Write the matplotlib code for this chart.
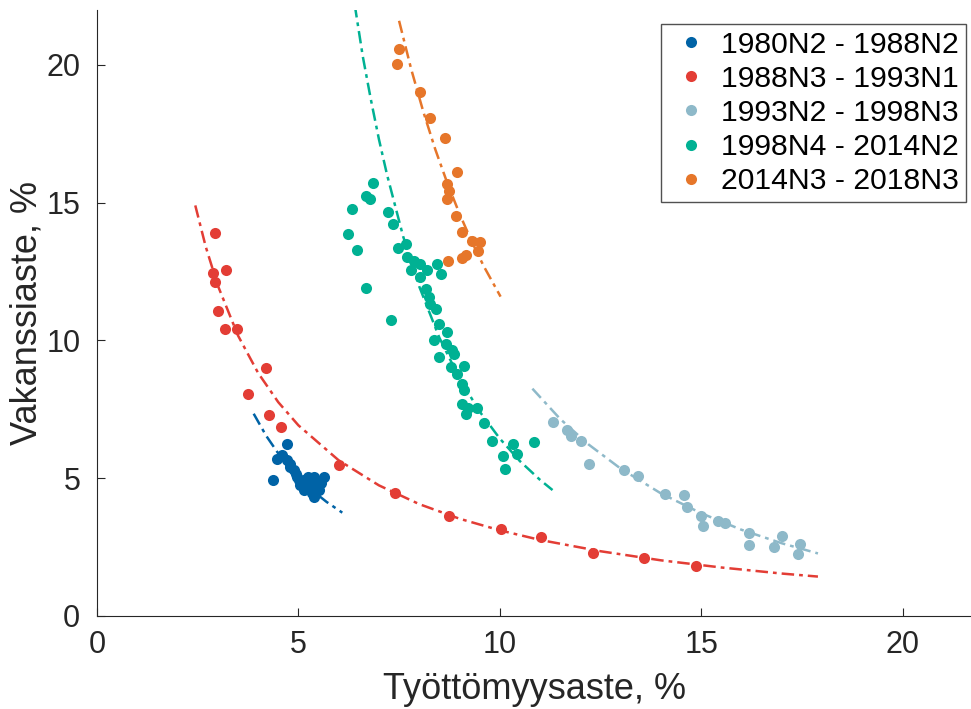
import numpy as np
import matplotlib
matplotlib.use('Agg')
import matplotlib.pyplot as plt

plt.rcParams['font.family'] = ['Liberation Sans', 'DejaVu Sans']

###########################################################

labels = ['1980N2 - 1988N2', '1988N3 - 1993N1', '1993N2 - 1998N3',
          '1998N4 - 2014N2', '2014N3 - 2018N3']
colors = ['#0063A6', '#E33D35', '#8EB9C9', '#00B193', '#E6762A']

# unemployment rate (x) and vacancy rate (y)
u_1 = [4.72, 4.59, 4.47, 4.80, 4.88, 4.97, 4.37, 5.13, 5.38, 5.63, 5.55, 5.30,
       5.05, 5.38, 5.51, 5.22, 5.01, 4.93, 4.80, 5.25, 5.44, 5.13, 5.34, 4.72]
v_1 = [6.23, 5.83, 5.68, 5.53, 5.29, 5.05, 4.93, 4.93, 5.05, 5.05, 4.81, 4.63,
       4.75, 4.32, 4.57, 4.81, 4.93, 5.17, 5.41, 5.05, 4.75, 4.57, 4.45, 5.65]

u_2 = [2.94, 3.21, 2.89, 2.94, 3.00, 3.18, 3.47, 4.20, 3.75, 4.28, 4.57,
       6.00, 7.41, 8.74, 10.02, 11.02, 12.31, 13.59, 14.88]
v_2 = [13.90, 12.57, 12.44, 12.11, 11.07, 10.42, 10.42, 9.01, 8.04, 7.28, 6.86,
       5.47, 4.45, 3.62, 3.14, 2.87, 2.29, 2.09, 1.81]

u_3 = [11.31, 11.68, 11.77, 12.01, 12.22, 13.09, 13.44, 14.10, 14.57, 14.65,
       15.00, 15.04, 15.41, 15.60, 16.18, 16.18, 16.82, 17.00, 17.45, 17.40]
v_3 = [7.04, 6.74, 6.52, 6.35, 5.53, 5.31, 5.07, 4.44, 4.38, 3.96,
       3.63, 3.26, 3.45, 3.36, 3.00, 2.57, 2.49, 2.90, 2.61, 2.25]

u_4 = [6.86, 6.67, 6.77, 6.33, 7.23, 7.36, 6.23, 6.46, 7.47, 7.66, 7.70,
       7.87, 8.03, 7.79, 8.20, 8.45, 8.53, 8.03, 6.67, 8.16, 8.24, 8.28, 8.41,
       7.29, 8.49, 8.68, 8.37, 8.66, 8.82, 8.49, 8.86, 8.78, 9.11, 8.95, 9.07,
       9.11, 9.07, 9.20, 9.44, 9.15, 9.61, 9.80, 10.34, 10.84, 10.09, 10.44, 10.12]
v_4 = [15.70, 15.25, 15.13, 14.77, 14.65, 14.22, 13.86, 13.29, 13.36, 13.50, 13.02,
       12.90, 12.78, 12.54, 12.54, 12.78, 12.42, 12.29, 11.90, 11.87, 11.57, 11.33, 11.15,
       10.75, 10.60, 10.30, 10.00, 9.88, 9.64, 9.40, 9.52, 9.03, 9.09, 8.79, 8.43,
       8.19, 7.71, 7.53, 7.53, 7.34, 7.00, 6.35, 6.23, 6.32, 5.80, 5.87, 5.35]

u_5 = [7.50, 7.45, 8.03, 8.27, 8.64, 8.93, 8.70, 8.74, 8.68, 8.91, 9.07,
       9.32, 9.51, 9.45, 9.15, 9.07, 8.71]
v_5 = [20.56, 20.02, 19.00, 18.07, 17.34, 16.10, 15.68, 15.43, 15.13, 14.50, 13.92,
       13.62, 13.56, 13.26, 13.10, 13.00, 12.87]

# fitted curves
fu_1 = [3.89, 4.2, 4.5, 4.8, 5.1, 5.4, 5.7, 6.09]
fv_1 = [7.34, 6.54, 5.90, 5.35, 4.89, 4.49, 4.14, 3.75]

fu_2 = [2.44, 2.7, 3.0, 3.5, 4.0, 4.5, 5.0, 6.0, 7.0, 8.0, 9.0, 10.0, 11.0,
        12.5, 14.0, 15.5, 17.0, 17.9]
fv_2 = [14.90, 13.40, 11.99, 10.18, 8.82, 7.76, 6.92, 5.65, 4.74, 4.06, 3.53,
        3.11, 2.76, 2.35, 2.02, 1.76, 1.54, 1.43]

fu_3 = [10.81, 11.5, 12.2, 13.0, 14.0, 15.0, 16.0, 17.0, 17.9]
fv_3 = [8.25, 7.15, 6.23, 5.35, 4.45, 3.73, 3.13, 2.64, 2.27]

fu_4 = [6.40, 6.6, 6.8, 7.0, 7.2, 7.6, 8.0, 8.5, 9.0, 9.5, 10.0, 10.5, 11.0, 11.31]
fv_4 = [22.17, 20.3, 18.74, 17.3, 16.02, 13.78, 11.96, 10.10, 8.62, 7.42, 6.44,
        5.62, 4.94, 4.57]

fu_5 = [7.50, 7.8, 8.1, 8.4, 8.7, 9.0, 9.3, 9.6, 10.02]
fv_5 = [21.60, 19.85, 18.31, 16.93, 15.70, 14.60, 13.60, 12.70, 11.59]

series = [(u_1, v_1), (u_2, v_2), (u_3, v_3), (u_4, v_4), (u_5, v_5)]
fits = [(fu_1, fv_1), (fu_2, fv_2), (fu_3, fv_3), (fu_4, fv_4), (fu_5, fv_5)]

###########################################################

fig = plt.figure(figsize=(9.71, 7.09), dpi=100)
ax = fig.add_axes([0.0999, 0.1312, 0.9001, 0.855])

for (u, v), (fu, fv), col, lab in zip(series, fits, colors, labels):
    ax.plot(u, v, 'o', color=col, ms=8, mec='none', label=lab)
    ax.plot(fu, fv, color=col, lw=1.8, ls=(0, (5, 2, 1.5, 2)))

ax.set_xlim(0, 21.7)
ax.set_ylim(0, 22)
ax.set_xticks([0, 5, 10, 15, 20])
ax.set_yticks([0, 5, 10, 15, 20])
ax.tick_params(direction='in', length=6, labelsize=22, colors='#262626')
ax.tick_params(axis='y', pad=12)
ax.tick_params(axis='x', pad=10)
ax.spines['top'].set_visible(False)
ax.spines['right'].set_visible(False)
for s in ['left', 'bottom']:
    ax.spines[s].set_color('#262626')
ax.set_xlabel('Työttömyysaste, %', fontsize=26, color='#262626', labelpad=9)
ax.set_ylabel('Vakanssiaste, %', fontsize=26, color='#262626', labelpad=1)

leg = ax.legend(loc='upper right', bbox_to_anchor=(0.9949, 0.9661),
                bbox_transform=fig.transFigure, borderaxespad=0, fontsize=21.7,
                frameon=True, fancybox=False, edgecolor='#262626',
                handletextpad=0.23, borderpad=0.23, labelspacing=0.2, handlelength=1.53)
leg.get_frame().set_linewidth(1.0)

fig.savefig('out.png', dpi=100)
